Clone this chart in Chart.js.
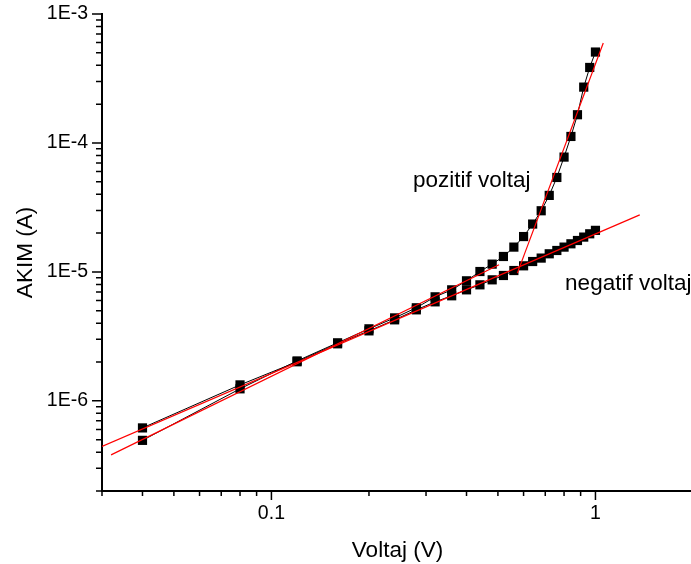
<!DOCTYPE html>
<html>
<head>
<meta charset="utf-8">
<script src="https://cdn.jsdelivr.net/npm/chart.js@4.4.1/dist/chart.umd.min.js"></script>
<style>
  html, body { margin: 0; padding: 0; background: #fff; overflow: hidden; width: 691px; height: 564px; }
  #wrap { position: relative; width: 693px; height: 564px; }
</style>
</head>
<body>
<div id="wrap"><canvas id="c" width="693" height="564"></canvas></div>
<script>
// I-V measurements (forward and reverse bias), log-log plot
const voltage = [0.04, 0.08, 0.12, 0.16, 0.20, 0.24, 0.28, 0.32, 0.36, 0.40,
                 0.44, 0.48, 0.52, 0.56, 0.60, 0.64, 0.68, 0.72, 0.76, 0.80,
                 0.84, 0.88, 0.92, 0.96, 1.00];
const pozitifCurrent = [4.94e-7, 1.24e-6, 2.04e-6, 2.82e-6, 3.62e-6, 4.40e-6, 5.27e-6, 6.41e-6, 7.26e-6, 8.53e-6,
                        1.007e-5, 1.149e-5, 1.317e-5, 1.557e-5, 1.88e-5, 2.35e-5, 2.98e-5, 3.92e-5, 5.40e-5, 7.77e-5,
                        1.123e-4, 1.655e-4, 2.71e-4, 3.85e-4, 5.07e-4];
const negatifCurrent = [6.17e-7, 1.33e-6, 2.01e-6, 2.77e-6, 3.49e-6, 4.25e-6, 5.08e-6, 5.86e-6, 6.53e-6, 7.26e-6,
                        7.94e-6, 8.68e-6, 9.38e-6, 1.025e-5, 1.115e-5, 1.204e-5, 1.28e-5, 1.382e-5, 1.466e-5, 1.557e-5,
                        1.652e-5, 1.752e-5, 1.862e-5, 1.975e-5, 2.10e-5];

// power-law fit lines (end points)
const negatifFitV = [0.03, 1.37];
const negatifFitI = [4.44e-7, 2.77e-5];
const pozitifLowFitV = [0.032, 0.504];
const pozitifLowFitI = [3.81e-7, 1.135e-5];
const pozitifHighFitV = [0.574, 1.057];
const pozitifHighFitI = [9.79e-6, 5.96e-4];

// axis ticks
const xTickValues = [0.1, 1];
const xTickLabels = ['0.1', '1'];
const yTickValues = [1e-6, 1e-5, 1e-4, 1e-3];
const yTickLabels = ['1E-6', '1E-5', '1E-4', '1E-3'];

// text labels placed in data coordinates
const seriesLabels = ['pozitif voltaj', 'negatif voltaj'];
const seriesLabelV = [0.2735, 0.806];
const seriesLabelI = [5.09e-5, 8.08e-6];

const FONT = "'Liberation Sans', Arial, Helvetica, sans-serif";

function pts(xs, ys) { return xs.map((x, i) => ({ x: x, y: ys[i] })); }

// decade ticks with 2..9 minor ticks in between
function logTicks(min, max, majors, labels) {
  const out = [];
  const e0 = Math.floor(Math.log10(min)) - 1, e1 = Math.ceil(Math.log10(max)) + 1;
  for (let e = e0; e <= e1; e++) {
    for (let m = 1; m <= 9; m++) {
      const v = parseFloat((m * Math.pow(10, e)).toPrecision(12));
      if (v < min * (1 - 1e-9) || v > max * (1 + 1e-9)) continue;
      const k = majors.findIndex(t => Math.abs(t - v) <= v * 1e-9);
      out.push({ value: v, major: k >= 0, text: k >= 0 ? labels[k] : '' });
    }
  }
  return out;
}

const tickMarks = {
  id: 'tickMarks',
  afterDraw(chart) {
    const ctx = chart.ctx;
    const xs = chart.scales.x, ys = chart.scales.y;
    const area = chart.chartArea;
    ctx.save();
    ctx.strokeStyle = '#000';
    ctx.lineWidth = 1.5;
    ctx.beginPath();
    ys.ticks.forEach(t => {
      const p = ys.getPixelForValue(t.value);
      const len = t.major ? 10 : 6;
      ctx.moveTo(area.left, p);
      ctx.lineTo(area.left - len, p);
    });
    xs.ticks.forEach(t => {
      const p = xs.getPixelForValue(t.value);
      const len = t.major ? 9 : 5;
      ctx.moveTo(p, area.bottom);
      ctx.lineTo(p, area.bottom + len);
    });
    ctx.stroke();

    // series names
    ctx.fillStyle = '#000';
    ctx.font = "22.5px " + FONT;
    ctx.textAlign = 'left';
    ctx.textBaseline = 'middle';
    seriesLabels.forEach((s, i) => {
      ctx.fillText(s, xs.getPixelForValue(seriesLabelV[i]), ys.getPixelForValue(seriesLabelI[i]));
    });
    ctx.restore();
  }
};

const black = '#000000';
const red = '#ff0000';

new Chart(document.getElementById('c'), {
  type: 'line',
  data: {
    datasets: [
      { label: 'negatif fit', data: pts(negatifFitV, negatifFitI), borderColor: red, borderWidth: 1.2, pointRadius: 0, order: 1 },
      { label: 'pozitif fit 1', data: pts(pozitifLowFitV, pozitifLowFitI), borderColor: red, borderWidth: 1.2, pointRadius: 0, order: 1 },
      { label: 'pozitif fit 2', data: pts(pozitifHighFitV, pozitifHighFitI), borderColor: red, borderWidth: 1.2, pointRadius: 0, order: 1 },
      { label: 'pozitif voltaj', data: pts(voltage, pozitifCurrent), borderColor: black, borderWidth: 1,
        pointStyle: 'rect', pointRadius: 6.5, pointBackgroundColor: black, pointBorderWidth: 0, order: 2 },
      { label: 'negatif voltaj', data: pts(voltage, negatifCurrent), borderColor: black, borderWidth: 1,
        pointStyle: 'rect', pointRadius: 6.5, pointBackgroundColor: black, pointBorderWidth: 0, order: 3 }
    ]
  },
  options: {
    responsive: false,
    animation: false,
    devicePixelRatio: 1,
    layout: { autoPadding: false, padding: { top: 14, left: 0, right: 0, bottom: 0 } },
    plugins: { legend: { display: false }, tooltip: { enabled: false } },
    elements: { line: { tension: 0 } },
    scales: {
      x: {
        type: 'logarithmic',
        position: 'bottom',
        min: 0.03,
        max: 2,
        grid: { display: false, drawTicks: false },
        border: { display: true, color: black, width: 2 },
        afterBuildTicks: s => { s.ticks = logTicks(s.min, s.max, xTickValues, xTickLabels); },
        afterFit: s => { s.height = 73; s.paddingLeft = 0; s.paddingRight = 0; },
        ticks: {
          autoSkip: false, maxRotation: 0, minRotation: 0, padding: 11, color: black,
          font: { family: FONT, size: 19.5 },
          callback: (v, i, ticks) => ticks[i].text
        },
        title: { display: true, text: 'Voltaj (V)', color: black, font: { family: FONT, size: 22.5 }, padding: { top: 2.5, bottom: 0 } }
      },
      y: {
        type: 'logarithmic',
        position: 'left',
        min: 2e-7,
        max: 1e-3,
        grid: { display: false, drawTicks: false },
        border: { display: true, color: black, width: 2 },
        afterBuildTicks: s => { s.ticks = logTicks(s.min, s.max, yTickValues, yTickLabels); },
        afterFit: s => { s.width = 102; s.paddingTop = 0; s.paddingBottom = 0; },
        ticks: {
          autoSkip: false, padding: 14, color: black,
          font: { family: FONT, size: 19.5 },
          callback: (v, i, ticks) => ticks[i].text
        },
        title: { display: true, text: 'AKIM (A)', color: black, font: { family: FONT, size: 22.5 }, padding: { top: 12, bottom: 0 } }
      }
    }
  },
  plugins: [tickMarks]
});
</script>
</body>
</html>
